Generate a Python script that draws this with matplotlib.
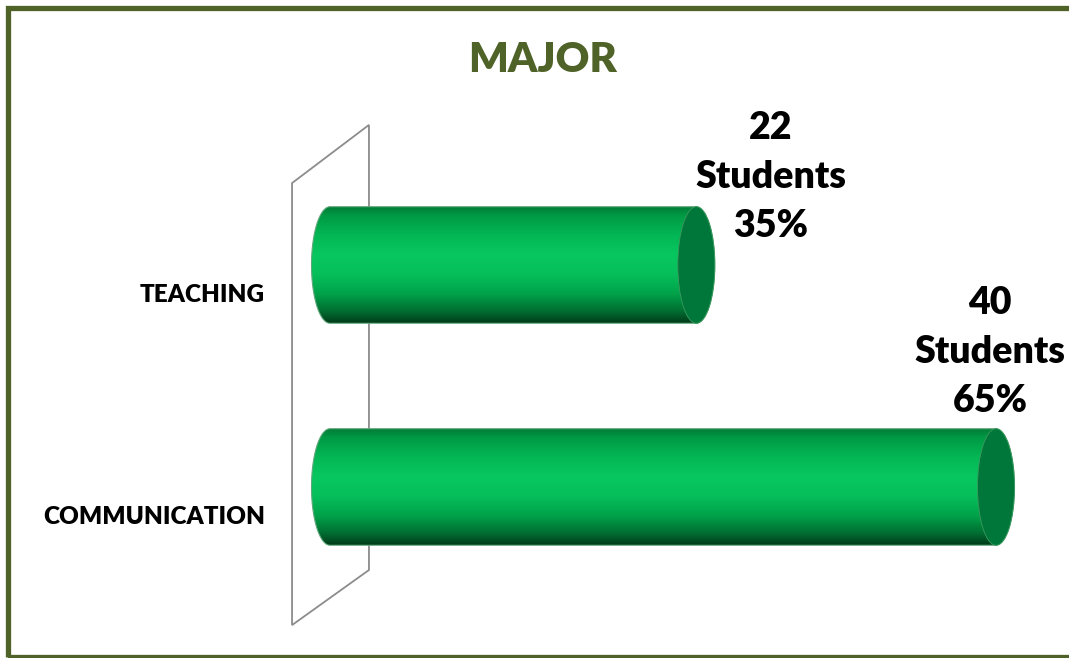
import numpy as np
import matplotlib
matplotlib.use("Agg")
import matplotlib.pyplot as plt
from matplotlib.path import Path
from matplotlib.patches import PathPatch, Ellipse, Rectangle, Polygon
from matplotlib.colors import LinearSegmentedColormap

# data
majors = ["COMMUNICATION", "TEACHING"]
students = [40, 22]
percents = [65, 35]

plt.rcParams['font.family'] = ['Lato', 'DejaVu Sans']

W, H = 1069, 658
fig = plt.figure(figsize=(W / 100, H / 100), dpi=100)
ax = fig.add_axes([0, 0, 1, 1])
ax.axis("off")

# pixel -> data mapping for the plot area
x0_px, px_per_val = 330, 16.65
y0_px, px_per_cat = 171, 222

bar_h = 0.525          # bar thickness in category units
cap_a = 18.5 / px_per_val  # half width of the end ellipses

body_cmap = LinearSegmentedColormap.from_list("cyl", [
    (0.00, "#007a36"),
    (0.08, "#009a44"),
    (0.25, "#03b755"),
    (0.42, "#08c760"),
    (0.58, "#06bf5b"),
    (0.75, "#00a24a"),
    (0.90, "#006e31"),
    (1.00, "#003c1a"),
])
cap_color = "#00773a"

# 3d side wall behind the bars
wall = Polygon([(-2.28, 1.369), (2.34, 1.631), (2.34, -0.374), (-2.28, -0.622)],
               closed=True, fill=False, edgecolor="#8c8c8c", lw=1.3, zorder=1)
ax.add_patch(wall)

grad = np.linspace(0, 1, 256).reshape(-1, 1)

for i, (name, val, pct) in enumerate(zip(majors, students, percents)):
    c = i
    b = bar_h / 2
    t_r = np.linspace(-np.pi / 2, np.pi / 2, 60)
    t_l = np.linspace(np.pi / 2, 3 * np.pi / 2, 60)
    xs = np.concatenate([val + cap_a * np.cos(t_r), cap_a * np.cos(t_l)])
    ys = np.concatenate([c + b * np.sin(t_r), c + b * np.sin(t_l)])
    verts = np.column_stack([xs, ys])
    path = Path(np.vstack([verts, verts[:1]]), closed=True)
    outline = PathPatch(path, facecolor="none", edgecolor="#5fa77a", lw=0.8, zorder=3)
    ax.add_patch(outline)
    clip = PathPatch(path, facecolor="none", edgecolor="none", transform=ax.transData)
    im = ax.imshow(grad, cmap=body_cmap, aspect="auto", origin="upper",
                   extent=[-cap_a, val + cap_a, c - b, c + b], zorder=2,
                   interpolation="bilinear")
    im.set_clip_path(clip)
    cap = Ellipse((val, c), 2 * cap_a, bar_h, facecolor=cap_color,
                  edgecolor="#3c9a5e", lw=0.6, zorder=4)
    ax.add_patch(cap)

    ax.text(-3.9, c - 0.133, name, ha="right", va="center",
            fontsize=17.5, fontweight="heavy", color="black")

# value labels
label_dx = [-0.36, 4.49]
label_dy = [0.608, 0.396]
for i, (val, pct) in enumerate(zip(students, percents)):
    ax.text(val + label_dx[i], i + label_dy[i], f"{val}\nStudents\n{pct}%",
            ha="center", va="center", multialignment="center",
            fontsize=27, fontweight="heavy", color="black", linespacing=1.55)

ax.set_xlim(-x0_px / px_per_val, (W - x0_px) / px_per_val)
ax.set_ylim(-y0_px / px_per_cat, (H - y0_px) / px_per_cat)

fig.text(543 / W, 1 - 60 / H, "MAJOR", ha="center", va="center",
         fontsize=30, fontweight="heavy", color="#4f6228")

# chart frame
fig.patches.append(Rectangle((7.5 / W, 1.5 / H), 1.2, 1 - 9 / H,
                             transform=fig.transFigure, fill=False,
                             edgecolor="#4f6228", lw=3.8))

fig.savefig("out.png", dpi=100, facecolor="white")
